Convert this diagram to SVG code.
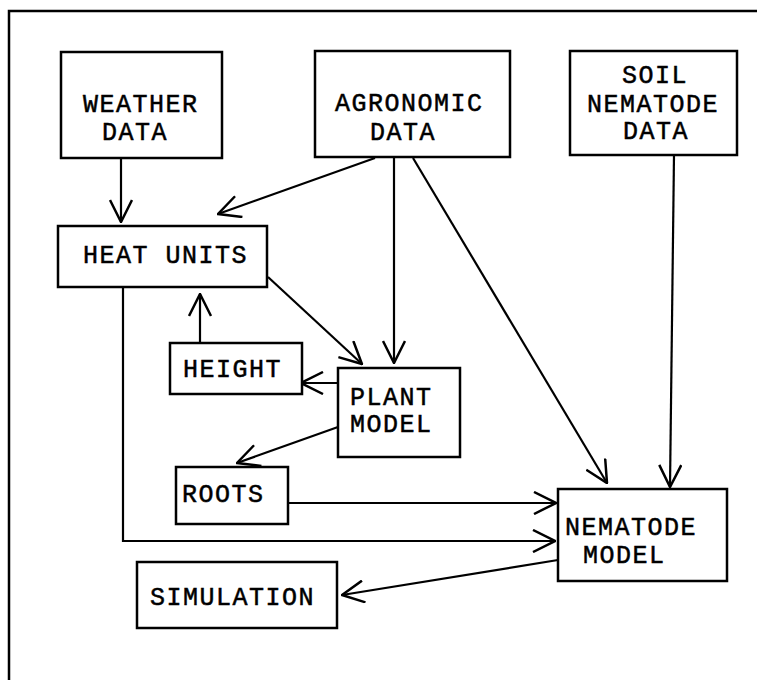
<svg xmlns="http://www.w3.org/2000/svg" width="757" height="680" viewBox="0 0 757 680">
<style>
.box{fill:#fff;stroke:#000;stroke-width:2.5}
.lbl{font-family:"Liberation Mono","DejaVu Sans Mono",monospace;font-size:25px;letter-spacing:1.5px;fill:#000;stroke:#000;stroke-width:0.5}
.edge{fill:none;stroke:#000;stroke-width:2.2}
</style>
<defs>
<marker id="arr" viewBox="0 0 24 24" refX="23" refY="12" markerWidth="24" markerHeight="24" markerUnits="userSpaceOnUse" orient="auto">
<path d="M1,1 L23,12 L1,23" fill="none" stroke="#000" stroke-width="2.5"/>
</marker>
</defs>
<rect width="757" height="680" fill="#fff"/>
<path d="M9,680 V11 H757" fill="none" stroke="#000" stroke-width="2.5"/>
<g id="connectors">
<path class="edge" d="M121,158 V222" marker-end="url(#arr)"/>
<path class="edge" d="M375,158 L218,214" marker-end="url(#arr)"/>
<path class="edge" d="M394,157 V363" marker-end="url(#arr)"/>
<path class="edge" d="M413,158 L607,483" marker-end="url(#arr)"/>
<path class="edge" d="M674,155 L670,487" marker-end="url(#arr)"/>
<path class="edge" d="M268,277 L362,364" marker-end="url(#arr)"/>
<path class="edge" d="M200,343 V294" marker-end="url(#arr)"/>
<path class="edge" d="M338,383 H301" marker-end="url(#arr)"/>
<path class="edge" d="M338,427 L237,463" marker-end="url(#arr)"/>
<path class="edge" d="M288,503 H556" marker-end="url(#arr)" stroke-width="3"/>
<path class="edge" d="M123,287 V541 H555" marker-end="url(#arr)" stroke-width="2.6"/>
<path class="edge" d="M558,560 L342,595" marker-end="url(#arr)" stroke-width="2.6"/>
</g>
<g id="weather">
<rect class="box" x="61" y="52" width="161" height="106"/>
<text class="lbl" x="83" y="112">WEATHER</text>
<text class="lbl" x="102" y="140">DATA</text>
</g>
<g id="agronomic">
<rect class="box" x="315" y="51" width="195" height="106"/>
<text class="lbl" x="335" y="111">AGRONOMIC</text>
<text class="lbl" x="370" y="140">DATA</text>
</g>
<g id="soil">
<rect class="box" x="570" y="51" width="167" height="104"/>
<text class="lbl" x="622" y="83">SOIL</text>
<text class="lbl" x="587" y="112">NEMATODE</text>
<text class="lbl" x="623" y="139">DATA</text>
</g>
<g id="heat">
<rect class="box" x="58" y="226" width="209" height="61"/>
<text class="lbl" x="83" y="263">HEAT UNITS</text>
</g>
<g id="height">
<rect class="box" x="170" y="343" width="132" height="51"/>
<text class="lbl" x="183" y="377">HEIGHT</text>
</g>
<g id="plant">
<rect class="box" x="338" y="368" width="122" height="89"/>
<text class="lbl" x="350" y="405">PLANT</text>
<text class="lbl" x="350" y="432">MODEL</text>
</g>
<g id="roots">
<rect class="box" x="176" y="467" width="112" height="57"/>
<text class="lbl" x="182" y="502">ROOTS</text>
</g>
<g id="nematode">
<rect class="box" x="558" y="489" width="169" height="92"/>
<text class="lbl" x="565" y="535">NEMATODE</text>
<text class="lbl" x="583" y="563">MODEL</text>
</g>
<g id="simulation">
<rect class="box" x="137" y="562" width="200" height="66"/>
<text class="lbl" x="150" y="605">SIMULATION</text>
</g>
</svg>
